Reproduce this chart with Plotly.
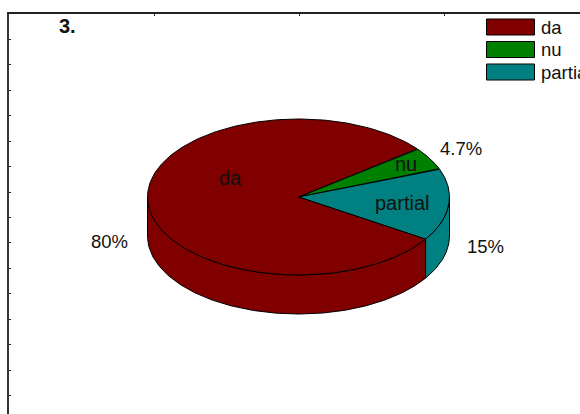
import numpy as np
import plotly.graph_objects as go

# Data (listed clockwise from the start angle)
categories = ["nu", "partial", "da"]
values = [4.7, 15.0, 80.3]
pct_labels = ["4.7%", "15%", "80%"]
colors = {"da": "#800000", "nu": "#008000", "partial": "#008080"}
legend_order = ["da", "nu", "partial"]
title_text = "3."

# Geometry, in the pixel-like axis units
CX, CY, RX, RY, DEPTH = 298.5, 197.0, 151.0, 78.0, 39.0
START_DEG = 38.2
FONT = "Liberation Sans, Arial, sans-serif"
FS = 18.5
FS_BIG = 20


def arc(a0, a1, n=160):
    t = np.radians(np.linspace(a0, a1, n))
    return CX + RX * np.cos(t), CY - RY * np.sin(t)


fig = go.Figure()


def poly(x, y, col):
    fig.add_trace(go.Scatter(x=list(x), y=list(y), mode="lines", fill="toself",
                             fillcolor=col, line=dict(color="black", width=1),
                             hoverinfo="skip", showlegend=False))


# angle ranges, clockwise
edges = START_DEG - np.concatenate([[0], np.cumsum(values)]) * 3.6
ranges = {c: (edges[i], edges[i + 1]) for i, c in enumerate(categories)}

# Side walls: visible only on the lower half of the ellipse (-180..0 degrees)
for c in categories:
    a0, a1 = ranges[c]
    lo, hi = max(min(a0, a1), -180.0), min(max(a0, a1), 0.0)
    if hi > lo:
        x, y = arc(lo, hi)
        poly(np.concatenate([x, x[::-1], x[:1]]),
             np.concatenate([y, y[::-1] + DEPTH, y[:1]]), colors[c])

# Top face
for c in categories:
    a0, a1 = ranges[c]
    x, y = arc(a0, a1, 240)
    poly(np.concatenate([[CX], x, [CX]]), np.concatenate([[CY], y, [CY]]), colors[c])

shapes = []
annotations = []


def text(x, y, s, anchor="center", bold=False, size=FS):
    annotations.append(dict(x=x, y=y, text=f"<b>{s}</b>" if bold else s, showarrow=False,
                            xanchor=anchor, yanchor="middle", xref="x", yref="y",
                            font=dict(family=FONT, size=size, color="#111111")))


# Legend
legend_rows = [27, 49.5, 72]
for name, ly in zip(legend_order, legend_rows):
    shapes.append(dict(type="rect", x0=486.5, x1=534.5, y0=ly - 8, y1=ly + 8, xref="x", yref="y",
                       fillcolor=colors[name], line=dict(color="black", width=1)))
    text(538.5, ly, name, anchor="left", size=FS)

# Slice names and percentages
text(230, 178, "da", size=FS_BIG)
text(406, 164, "nu", size=FS_BIG)
text(401.5, 203, "partial", size=FS_BIG)
text(460.5, 148, pct_labels[0])
text(485, 246, pct_labels[1])
text(109.5, 241, pct_labels[2])
text(67.5, 26, title_text, bold=True, size=FS_BIG)

fig.update_layout(
    width=580, height=414, margin=dict(l=9, r=0, t=14, b=0, autoexpand=False),
    paper_bgcolor="white", plot_bgcolor="white", showlegend=False,
    shapes=shapes, annotations=annotations,
    xaxis=dict(range=[9, 580], side="top", showgrid=False, zeroline=False, showline=True,
               linecolor="#222222", linewidth=2, ticks="inside", ticklen=2, tickcolor="#222222",
               tickvals=[154, 299, 444], showticklabels=False, fixedrange=True),
    yaxis=dict(range=[414, 14], showgrid=False, zeroline=False, showline=True,
               linecolor="#333333", linewidth=2, ticks="inside", ticklen=2, tickcolor="#222222",
               tickvals=[39, 64, 90, 115, 141, 166, 192, 217, 242, 268, 293, 319, 344, 370, 395],
               showticklabels=False, fixedrange=True),
)
fig.write_html("out.html", config=dict(displayModeBar=False),
               post_script="document.body.style.margin='0';document.documentElement.style.overflow='hidden';")
